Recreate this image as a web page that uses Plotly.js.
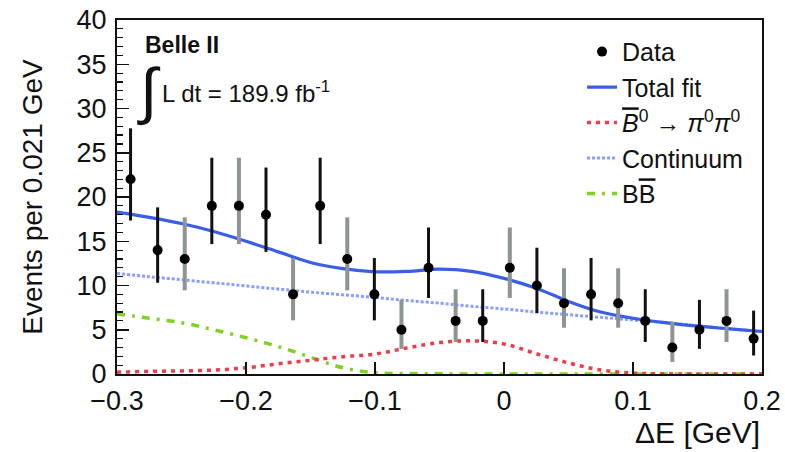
<!DOCTYPE html>
<html>
<head>
<meta charset="utf-8">
<script src="https://cdn.plot.ly/plotly-3.0.1.min.js"></script>
<style>html,body{margin:0;padding:0;background:#fff;}#chart{width:785px;height:452px;}</style>
</head>
<body>
<div id="chart"></div>
<script>
// Data histogram (bin width 0.021 GeV)
const binCenters = [-0.2895,-0.2685,-0.2475,-0.2265,-0.2055,-0.1845,-0.1635,-0.1425,-0.1215,-0.1005,-0.0795,-0.0585,-0.0375,-0.0165,0.0045,0.0255,0.0465,0.0675,0.0885,0.1095,0.1305,0.1515,0.1725,0.1935];
const counts     = [22,14,13,19,19,18,9,19,13,9,5,12,6,6,12,10,8,9,8,6,3,5,6,4];
const errUp      = [5.76,4.83,4.70,5.44,5.44,5.33,4.11,5.44,4.70,4.11,3.38,4.56,3.58,3.58,4.56,4.27,3.95,4.11,3.95,3.58,2.92,3.38,3.58,3.16];
const errDown    = [4.66,3.69,3.55,4.32,4.32,4.20,2.94,4.32,3.55,2.94,2.16,3.41,2.38,2.38,3.41,3.11,2.77,2.94,2.77,2.38,1.63,2.16,2.38,1.91];
const barIsGray  = [0,0,1,0,1,0,1,0,1,0,1,0,1,0,1,0,1,0,1,0,1,0,1,0];

// Fit components
const curveX     = [-0.3,-0.275,-0.25,-0.225,-0.2,-0.175,-0.15,-0.125,-0.1,-0.075,-0.05,-0.025,0,0.025,0.05,0.075,0.1,0.125,0.15,0.175,0.2];
const totalFit   = [18.3,17.7,17.0,16.1,15.0,13.8,12.6,11.9,11.55,11.6,11.85,11.6,10.8,9.7,8.2,7.0,6.3,5.8,5.4,5.1,4.8];
const signalPdf  = [0.2,0.3,0.35,0.45,0.7,1.15,1.55,1.95,2.25,2.95,3.55,3.75,3.4,2.3,1.25,0.45,0.1,0.02,0,0,0];
const continuum  = [11.35,11.0,10.65,10.3,9.95,9.6,9.25,8.95,8.65,8.3,8.0,7.65,7.35,7.0,6.7,6.4,6.1,5.8,5.45,5.1,4.8];
const bbbar      = [6.8,6.3,5.8,5.0,4.1,3.1,1.9,0.7,0.15,0.05,0.02,0,0,0,0,0,0,0,0,0,0];

const names = ['Data','Total fit',
  "<i><span style='text-decoration:overline'>B</span></i><sup>0</sup> \u2192 <i>\u03c0</i><sup>0</sup><i>\u03c0</i><sup>0</sup>",
  'Continuum',
  "B<span style='text-decoration:overline'>B</span>"];

function pick(arr, flag){ return arr.filter((_, i) => barIsGray[i] === flag); }

const traces = [
  {x: curveX, y: bbbar, mode: 'lines', name: names[4], legendrank: 5,
   line: {color: '#7ed321', width: 3.5, dash: '8px,7px,3px,7px', shape: 'spline'}},
  {x: curveX, y: signalPdf, mode: 'lines', name: names[2], legendrank: 3,
   line: {color: '#f03a4a', width: 3.5, dash: '4px,5px', shape: 'spline'}},
  {x: curveX, y: continuum, mode: 'lines', name: names[3], legendrank: 4,
   line: {color: '#8a9cff', width: 3, dash: '3px,2px', shape: 'spline'}},
  {x: curveX, y: totalFit, mode: 'lines', name: names[1], legendrank: 2,
   line: {color: '#3a5ee8', width: 3.2, shape: 'spline'}},
  {x: pick(binCenters,1), y: pick(counts,1), mode: 'markers', name: 'Data gray', showlegend: false,
   marker: {color: '#000', size: 10},
   error_y: {type: 'data', symmetric: false, array: pick(errUp,1), arrayminus: pick(errDown,1), color: '#8e9494', thickness: 4, width: 0}},
  {x: pick(binCenters,0), y: pick(counts,0), mode: 'markers', name: names[0], legendrank: 1,
   marker: {color: '#000', size: 10},
   error_y: {type: 'data', symmetric: false, array: pick(errUp,0), arrayminus: pick(errDown,0), color: '#111', thickness: 3, width: 0}}
];

const font = 'Liberation Sans, Arial, Helvetica, sans-serif';
const layout = {
  width: 785, height: 452,
  margin: {l: 117, r: 23, t: 20, b: 78},
  paper_bgcolor: '#fff', plot_bgcolor: '#fff',
  font: {family: font, color: '#111'},
  showlegend: true,
  legend: {x: 0.721, y: 0.975, xanchor: 'left', yanchor: 'top', bgcolor: 'rgba(0,0,0,0)',
           font: {size: 25, family: font, color: '#111'}, traceorder: 'normal', itemwidth: 30},
  xaxis: {range: [-0.3, 0.2], dtick: 0.1, tick0: 0, ticks: 'inside', ticklen: 12, tickwidth: 1.5, tickcolor: '#111',
          showline: true, linecolor: '#111', linewidth: 2, mirror: true, showgrid: false, zeroline: false,
          tickfont: {size: 27, family: font, color: '#111'}, ticklabelstandoff: 2},
  yaxis: {range: [0, 40], dtick: 5, ticks: 'inside', ticklen: 12, tickwidth: 1.5, tickcolor: '#111',
          minor: {dtick: 1, ticks: 'inside', ticklen: 6, tickcolor: '#111', tickwidth: 1.2},
          showline: true, linecolor: '#111', linewidth: 2, mirror: true, showgrid: false, zeroline: false,
          tickfont: {size: 27, family: font, color: '#111'}, ticklabelstandoff: 3,
          title: {text: 'Events per 0.021 GeV', font: {size: 28, family: font, color: '#111'}, standoff: 26}},
  annotations: [
    {xref: 'paper', yref: 'paper', x: 0.040, y: 0.929, xanchor: 'left', yanchor: 'middle', showarrow: false,
     text: '<b>Belle II</b>', font: {size: 23, family: font, color: '#111'}},
    {xref: 'paper', yref: 'paper', x: 0.049, y: 0.80, xanchor: 'center', yanchor: 'middle', showarrow: false,
     text: '\u222b', font: {size: 62, family: font, color: '#111'}},
    {xref: 'paper', yref: 'paper', x: 0.066, y: 0.797, xanchor: 'left', yanchor: 'middle', showarrow: false,
     text: 'L dt = 189.9 fb<sup>-1</sup>', font: {size: 24, family: font, color: '#111'}},
    {xref: 'paper', yref: 'paper', x: 1.0, y: -0.164, xanchor: 'right', yanchor: 'middle', showarrow: false,
     text: '\u0394E [GeV]', font: {size: 30, family: font, color: '#111'}}
  ]
};

Plotly.newPlot('chart', traces, layout, {displayModeBar: false, staticPlot: true});
</script>
</body>
</html>
